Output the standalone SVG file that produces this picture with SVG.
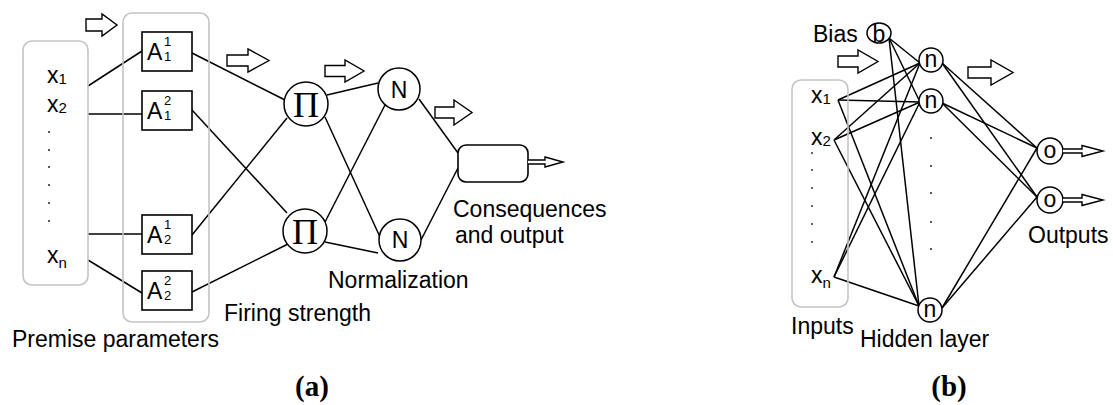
<svg xmlns="http://www.w3.org/2000/svg" width="1113" height="405" viewBox="0 0 1113 405">
  <style>
    .bg { fill: #ffffff; }
    .group { fill: none; stroke: #c4c4c4; stroke-width: 1.6; }
    .box { fill: #ffffff; stroke: #000; stroke-width: 1.6; }
    .node { fill: #ffffff; stroke: #000; stroke-width: 1.5; }
    .edge { stroke: #000; stroke-width: 1.5; fill: none; }
    .flow { fill: #ffffff; stroke: #000; stroke-width: 1.4; stroke-linejoin: miter; }
    .lbl { font-family: "Liberation Sans", Arial, sans-serif; font-size: 23px; fill: #000; }
    .sm { font-family: "Liberation Sans", Arial, sans-serif; font-size: 15px; fill: #000; }
    .idx { font-family: "Liberation Sans", Arial, sans-serif; font-size: 13px; fill: #000; }
    .pi { font-family: "Liberation Serif", "Times New Roman", serif; font-size: 36px; fill: #000; }
    .cap { font-family: "Liberation Serif", "Times New Roman", serif; font-size: 29px; font-weight: bold; fill: #000; }
    .dot { fill: #333; }
  </style>
  <rect class="bg" x="0" y="0" width="1113" height="405"/>

  <!-- ===================== (a) ANFIS ===================== -->
  <g id="a-connectors">
    <line class="edge" x1="88" y1="86" x2="142" y2="51"/>
    <line class="edge" x1="88" y1="114" x2="142" y2="114"/>
    <line class="edge" x1="88" y1="234" x2="142" y2="234"/>
    <line class="edge" x1="88" y1="260" x2="142" y2="293"/>
    <line class="edge" x1="192" y1="53" x2="285" y2="100"/>
    <line class="edge" x1="192" y1="110" x2="287" y2="213"/>
    <line class="edge" x1="192" y1="235" x2="287" y2="118"/>
    <line class="edge" x1="192" y1="292" x2="288" y2="244"/>
    <line class="edge" x1="327" y1="95" x2="378" y2="83"/>
    <line class="edge" x1="325" y1="117" x2="380" y2="237"/>
    <line class="edge" x1="325" y1="222" x2="385" y2="105"/>
    <line class="edge" x1="325" y1="242" x2="378" y2="253"/>
    <line class="edge" x1="419" y1="99" x2="458" y2="153"/>
    <line class="edge" x1="421" y1="240" x2="458" y2="168"/>
  </g>

  <g id="a-inputs">
    <rect class="group" x="23" y="41" width="65" height="244" rx="9"/>
    <text class="lbl" x="47" y="83">x<tspan class="sm" dy="1">1</tspan></text>
    <text class="lbl" x="47" y="112">x<tspan class="sm" dy="1">2</tspan></text>
    <circle class="dot" cx="49" cy="132" r="1.1"/>
    <circle class="dot" cx="49" cy="150" r="1.1"/>
    <circle class="dot" cx="49" cy="167" r="1.1"/>
    <circle class="dot" cx="49" cy="185" r="1.1"/>
    <circle class="dot" cx="49" cy="203" r="1.1"/>
    <circle class="dot" cx="49" cy="221" r="1.1"/>
    <text class="lbl" x="47" y="263">x<tspan class="sm" dy="5">n</tspan></text>
  </g>

  <g id="a-premise">
    <rect class="group" x="123" y="13" width="86" height="309" rx="9"/>
  </g>
  <g id="A11">
    <rect class="box" x="142" y="32" width="50" height="39"/>
    <text class="lbl" x="147" y="60">A</text>
    <text class="idx" x="164" y="46">1</text>
    <text class="idx" x="164" y="61">1</text>
  </g>
  <g id="A12">
    <rect class="box" x="142" y="91" width="50" height="39"/>
    <text class="lbl" x="147" y="119">A</text>
    <text class="idx" x="164" y="105">2</text>
    <text class="idx" x="164" y="120">1</text>
  </g>
  <g id="A21">
    <rect class="box" x="142" y="215" width="50" height="39"/>
    <text class="lbl" x="147" y="243">A</text>
    <text class="idx" x="164" y="229">1</text>
    <text class="idx" x="164" y="244">2</text>
  </g>
  <g id="A22">
    <rect class="box" x="142" y="271" width="50" height="39"/>
    <text class="lbl" x="147" y="299">A</text>
    <text class="idx" x="164" y="285">2</text>
    <text class="idx" x="164" y="300">2</text>
  </g>

  <g id="Pi1">
    <circle class="node" cx="306" cy="104" r="22"/>
    <text class="pi" x="306" y="117" text-anchor="middle">Π</text>
  </g>
  <g id="Pi2">
    <circle class="node" cx="305" cy="231" r="22"/>
    <text class="pi" x="305" y="244" text-anchor="middle">Π</text>
  </g>
  <g id="N1">
    <circle class="node" cx="399" cy="89" r="21"/>
    <text class="lbl" x="399" y="98" text-anchor="middle">N</text>
  </g>
  <g id="N2">
    <circle class="node" cx="400" cy="240" r="21"/>
    <text class="lbl" x="400" y="248" text-anchor="middle">N</text>
  </g>
  <g id="output-a">
    <rect class="box" x="458" y="145" width="70" height="37" rx="8"/>
    <path class="flow" d="M528,160 H545 V157 L563,162 L545,167 V164 H528"/>
  </g>

  <g id="a-flow-arrows">
    <path class="flow" d="M86,19 H102 V14 L117,25 L102,36 V31 H86 Z"/>
    <path class="flow" d="M227,55 H248 V49 L269,60.5 L248,72 V66 H227 Z"/>
    <path class="flow" d="M325,65.5 H345 V60 L364,71 L345,82 V76.5 H325 Z"/>
    <path class="flow" d="M435,107 H454 V100 L472,112.5 L454,125 V118 H435 Z"/>
  </g>

  <g id="a-labels">
    <text class="lbl" x="12" y="347">Premise parameters</text>
    <text class="lbl" x="224" y="321">Firing strength</text>
    <text class="lbl" x="328" y="288">Normalization</text>
    <text class="lbl" x="453" y="217">Consequences</text>
    <text class="lbl" x="455" y="243">and output</text>
    <text class="cap" x="312" y="396" text-anchor="middle">(a)</text>
  </g>

  <!-- ===================== (b) MLP ===================== -->
  <g id="b-connectors">
    <!-- bias to hidden -->
    <line class="edge" x1="889" y1="38" x2="920" y2="63"/>
    <line class="edge" x1="889" y1="38" x2="920" y2="102"/>
    <line class="edge" x1="889" y1="38" x2="919" y2="306"/>
    <!-- x1 to hidden -->
    <line class="edge" x1="838" y1="100" x2="920" y2="63"/>
    <line class="edge" x1="838" y1="100" x2="920" y2="102"/>
    <line class="edge" x1="838" y1="100" x2="919" y2="306"/>
    <!-- x2 to hidden -->
    <line class="edge" x1="834" y1="140" x2="920" y2="63"/>
    <line class="edge" x1="834" y1="140" x2="920" y2="102"/>
    <line class="edge" x1="834" y1="140" x2="919" y2="306"/>
    <!-- xn to hidden -->
    <line class="edge" x1="834" y1="277" x2="920" y2="63"/>
    <line class="edge" x1="834" y1="277" x2="920" y2="102"/>
    <line class="edge" x1="834" y1="277" x2="919" y2="306"/>
    <!-- hidden to outputs -->
    <line class="edge" x1="942" y1="63" x2="1037" y2="148"/>
    <line class="edge" x1="942" y1="63" x2="1037" y2="197"/>
    <line class="edge" x1="942" y1="103" x2="1037" y2="148"/>
    <line class="edge" x1="942" y1="103" x2="1037" y2="197"/>
    <line class="edge" x1="942" y1="308" x2="1037" y2="148"/>
    <line class="edge" x1="942" y1="308" x2="1037" y2="197"/>
  </g>

  <g id="b-inputs">
    <rect class="group" x="792" y="80" width="56" height="227" rx="9"/>
    <text class="lbl" x="811" y="103">x<tspan class="sm" dy="1">1</tspan></text>
    <text class="lbl" x="811" y="145">x<tspan class="sm" dy="1">2</tspan></text>
    <circle class="dot" cx="812" cy="153" r="1"/>
    <circle class="dot" cx="812" cy="170" r="1"/>
    <circle class="dot" cx="812" cy="188" r="1"/>
    <circle class="dot" cx="812" cy="206" r="1"/>
    <circle class="dot" cx="812" cy="224" r="1"/>
    <circle class="dot" cx="812" cy="242" r="1"/>
    <text class="lbl" x="811" y="283">x<tspan class="sm" dy="5">n</tspan></text>
  </g>

  <g id="bias">
    <text class="lbl" x="813" y="42">Bias</text>
    <ellipse class="node" cx="879" cy="33" rx="12" ry="10"/>
    <text class="lbl" x="879" y="42" text-anchor="middle">b</text>
  </g>
  <g id="h1">
    <circle class="node" cx="931" cy="60" r="12"/>
    <text class="lbl" x="931" y="67" text-anchor="middle">n</text>
  </g>
  <g id="h2">
    <circle class="node" cx="931" cy="101" r="12"/>
    <text class="lbl" x="931" y="108" text-anchor="middle">n</text>
  </g>
  <g id="h-dots">
    <circle class="dot" cx="931" cy="138" r="1.1"/>
    <circle class="dot" cx="931" cy="166" r="1.1"/>
    <circle class="dot" cx="931" cy="193" r="1.1"/>
    <circle class="dot" cx="931" cy="222" r="1.1"/>
    <circle class="dot" cx="931" cy="249" r="1.1"/>
  </g>
  <g id="h3">
    <circle class="node" cx="930" cy="310" r="12"/>
    <text class="lbl" x="930" y="317" text-anchor="middle">n</text>
  </g>
  <g id="o1">
    <circle class="node" cx="1050" cy="151" r="13"/>
    <text class="lbl" x="1050" y="158" text-anchor="middle">o</text>
    <path class="flow" d="M1063,149 H1082 V145.5 L1103,151 L1082,156.5 V153 H1063"/>
  </g>
  <g id="o2">
    <circle class="node" cx="1050" cy="200" r="13"/>
    <text class="lbl" x="1050" y="207" text-anchor="middle">o</text>
    <path class="flow" d="M1063,198 H1082 V194.5 L1103,200 L1082,205.5 V202 H1063"/>
  </g>

  <g id="b-flow-arrows">
    <path class="flow" d="M838,56 H858 V50 L878,61.5 L858,73 V67 H838 Z"/>
    <path class="flow" d="M968,67 H991 V60 L1013,72.5 L991,85 V78 H968 Z"/>
  </g>

  <g id="b-labels">
    <text class="lbl" x="791" y="334">Inputs</text>
    <text class="lbl" x="860" y="347">Hidden layer</text>
    <text class="lbl" x="1028" y="243">Outputs</text>
    <text class="cap" x="949" y="396" text-anchor="middle">(b)</text>
  </g>
</svg>
